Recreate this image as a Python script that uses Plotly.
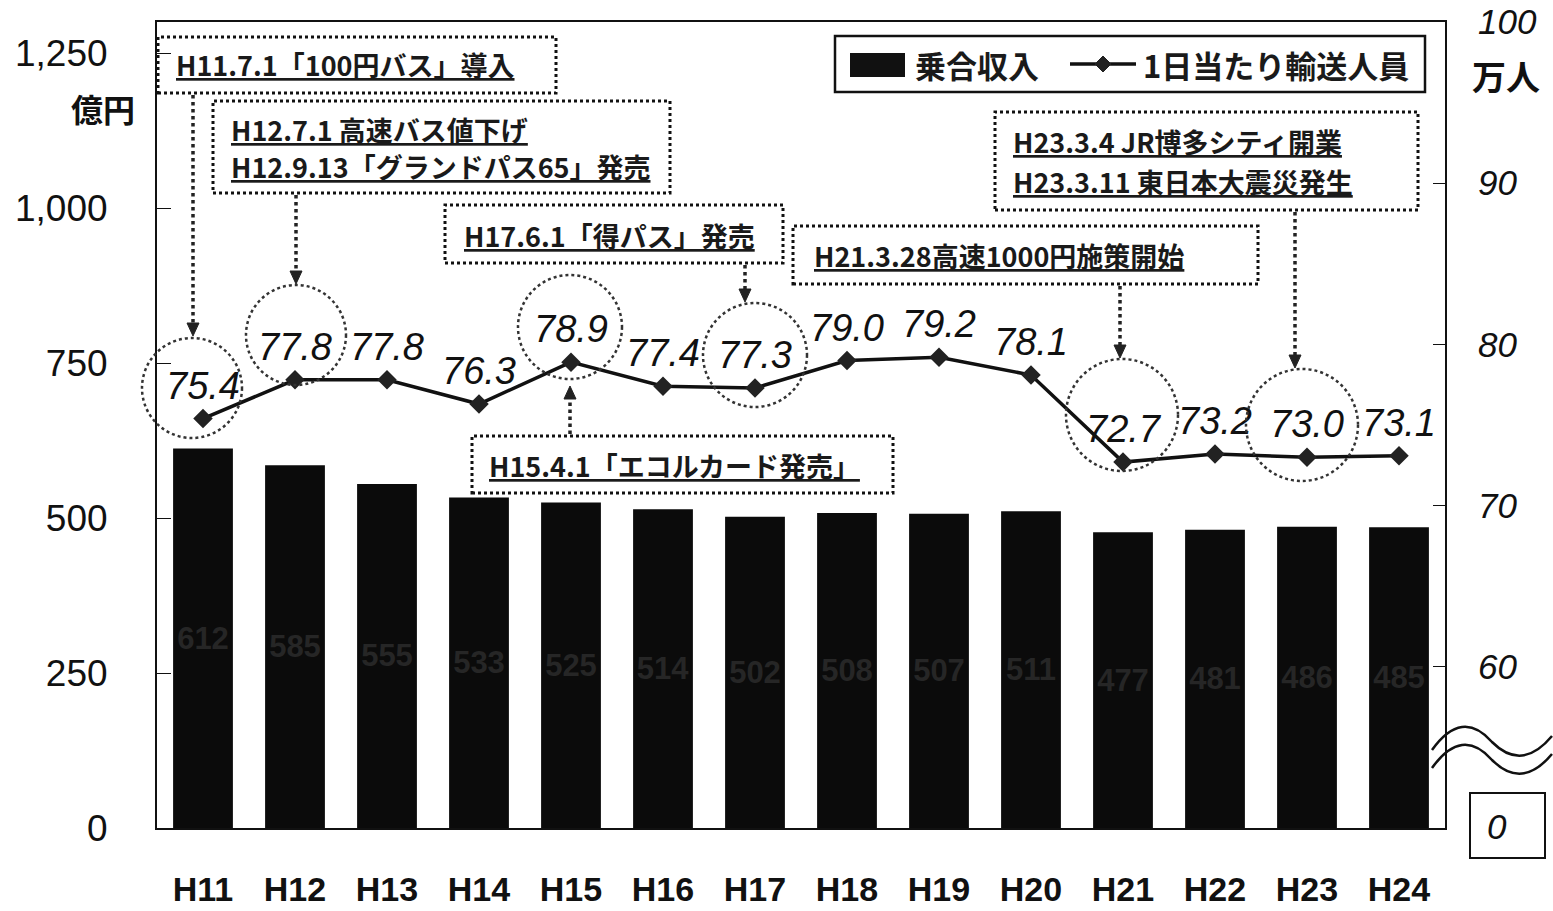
import plotly.graph_objects as go

years = ["H11", "H12", "H13", "H14", "H15", "H16", "H17", "H18", "H19", "H20", "H21", "H22", "H23", "H24"]
revenue = [612, 585, 555, 533, 525, 514, 502, 508, 507, 511, 477, 481, 486, 485]
riders = [75.4, 77.8, 77.8, 76.3, 78.9, 77.4, 77.3, 79.0, 79.2, 78.1, 72.7, 73.2, 73.0, 73.1]
left_ticks = [0, 250, 500, 750, 1000, 1250]
left_tick_text = ["0", "250", "500", "750", "1,000", "1,250"]
right_ticks = [60, 70, 80, 90, 100]
right_tick_text = ["60", "70", "80", "90", "100"]

W, H = 1553, 911
L, R, T, B = 157, 1445, 22, 828


def px(x):
    return (x - L) / (R - L)


def py(y):
    return (B - y) / (B - T)


JP = "Noto Sans CJK JP"
LAT = "Liberation Sans, Arial"

fig = go.Figure()
fig.add_trace(go.Bar(
    x=years, y=revenue, name="乗合収入", marker=dict(color="#0b0b0b", line=dict(width=0)),
    width=0.65, text=[str(v) for v in revenue], textposition="inside",
    insidetextanchor="middle", textangle=0, constraintext="none",
    textfont=dict(family=LAT, size=31, color="#262626", weight="bold"),
    showlegend=False,
))
fig.add_trace(go.Scatter(
    x=years, y=riders, name="1日当たり輸送人員", yaxis="y2", mode="lines+markers+text",
    line=dict(color="#111", width=3.5), marker=dict(symbol="diamond", size=15, color="#222"),
    text=[f"{v:.1f}" for v in riders], textposition="top center",
    textfont=dict(family=LAT, size=38, color="#111", style="italic"),
    showlegend=False, cliponaxis=False,
))

shapes = []
annotations = []


def dot_rect(x0, y0, x1, y1):
    shapes.append(dict(type="rect", xref="paper", yref="paper", x0=px(x0), x1=px(x1), y0=py(y1), y1=py(y0),
                       line=dict(color="#111", width=3, dash="dot"), fillcolor="rgba(255,255,255,0)", layer="above"))


def dot_circle(cx, cy, r):
    shapes.append(dict(type="circle", xref="paper", yref="paper", x0=px(cx - r), x1=px(cx + r),
                       y0=py(cy + r), y1=py(cy - r), line=dict(color="#333", width=2.5, dash="dot"), layer="above"))


def arrow(x, y0, y1):
    d = 1 if y1 > y0 else -1
    shapes.append(dict(type="line", xref="paper", yref="paper", x0=px(x), x1=px(x), y0=py(y0), y1=py(y1 - d * 8),
                       line=dict(color="#222", width=3.5, dash="dot"), layer="above"))
    hx, hy = x, y1
    path = (f"M {px(hx - 6)},{py(hy - d * 13)} L {px(hx + 6)},{py(hy - d * 13)} L {px(hx)},{py(hy)} Z")
    shapes.append(dict(type="path", xref="paper", yref="paper", path=path, fillcolor="#222",
                       line=dict(color="#222", width=1), layer="above"))


def note(text, x, y, size=27, anchor="left"):
    annotations.append(dict(text=text, xref="paper", yref="paper", x=px(x), y=py(y), xanchor=anchor,
                            yanchor="middle", showarrow=False, align="left",
                            font=dict(family=JP, size=size, color="#1a1a1a", weight="bold")))


# event boxes
dot_rect(158, 37, 556, 93)
note("<u>H11.7.1「100円バス」導入</u>", 174, 64)
dot_rect(213, 101, 670, 193)
note("<u>H12.7.1 高速バス値下げ</u>", 229, 129)
note("<u>H12.9.13「グランドパス65」発売</u>", 229, 167)
dot_rect(445, 205, 783, 263)
note("<u>H17.6.1「得パス」発売</u>", 462, 235)
dot_rect(793, 226, 1258, 284)
note("<u>H21.3.28高速1000円施策開始</u>", 812, 255)
dot_rect(995, 112, 1418, 210)
note("<u>H23.3.4 JR博多シティ開業</u>", 1011, 142)
note("<u>H23.3.11 東日本大震災発生</u>", 1011, 181)
dot_rect(472, 436, 893, 493)
note("<u>H15.4.1「エコルカード発売」</u>", 487, 465)

# circles
dot_circle(192, 388, 50)
dot_circle(296, 335, 50)
dot_circle(570, 327, 52)
dot_circle(755, 355, 52)
dot_circle(1122, 415, 56)
dot_circle(1302, 425, 56)

# arrows
arrow(193, 95, 336)
arrow(296, 195, 284)
arrow(745, 265, 302)
arrow(1120, 286, 358)
arrow(1295, 212, 368)
arrow(570, 434, 386)

# legend (custom)
shapes.append(dict(type="rect", xref="paper", yref="paper", x0=px(835), x1=px(1425), y0=py(92), y1=py(36),
                   line=dict(color="#111", width=2.5), fillcolor="white", layer="above"))
shapes.append(dict(type="rect", xref="paper", yref="paper", x0=px(850), x1=px(905), y0=py(77), y1=py(53),
                   line=dict(color="#111", width=0), fillcolor="#111", layer="above"))
shapes.append(dict(type="line", xref="paper", yref="paper", x0=px(1070), x1=px(1136), y0=py(64), y1=py(64),
                   line=dict(color="#111", width=3.5), layer="above"))
shapes.append(dict(type="path", xref="paper", yref="paper",
                   path=f"M {px(1103)},{py(56)} L {px(1111)},{py(64)} L {px(1103)},{py(72)} L {px(1095)},{py(64)} Z",
                   fillcolor="#222", line=dict(color="#222", width=1), layer="above"))
note("乗合収入", 913, 64, size=31)
note("1日当たり輸送人員", 1141, 64, size=31)

# axis unit labels
annotations.append(dict(text="億円", xref="paper", yref="paper", x=px(137), y=py(108), xanchor="right",
                        yanchor="middle", showarrow=False, font=dict(family=JP, size=32, color="#111", weight="bold")))
annotations.append(dict(text="万人", xref="paper", yref="paper", x=px(1470), y=py(75), xanchor="left",
                        yanchor="middle", showarrow=False, font=dict(family=JP, size=34, color="#111", weight="bold")))

# broken axis marks and zero box
for off in (0, 18):
    path = (f"M {px(1432)},{py(750 + off)} Q {px(1462)},{py(708 + off)} {px(1492)},{py(742 + off)} "
            f"Q {px(1522)},{py(772 + off)} {px(1552)},{py(736 + off)}")
    shapes.append(dict(type="path", xref="paper", yref="paper", path=path, line=dict(color="#111", width=2.5),
                       layer="above"))
shapes.append(dict(type="rect", xref="paper", yref="paper", x0=px(1470), x1=px(1545), y0=py(858), y1=py(793),
                   line=dict(color="#111", width=2), layer="above"))
annotations.append(dict(text="0", xref="paper", yref="paper", x=px(1497), y=py(826), xanchor="center",
                        yanchor="middle", showarrow=False, font=dict(family=LAT, size=35, color="#111", style="italic")))

fig.update_layout(
    width=W, height=H, autosize=False,
    margin=dict(l=L, r=W - R, t=T, b=H - B, autoexpand=False),
    paper_bgcolor="white", plot_bgcolor="white",
    showlegend=False, bargap=0.35,
    shapes=shapes, annotations=annotations,
    xaxis=dict(range=[-0.5, len(years) - 0.5], showline=True, linecolor="#111", linewidth=2, mirror=True,
               showgrid=False, ticks="", automargin=False,
               tickfont=dict(family=LAT, size=34, color="#111", weight="bold"), ticklabelstandoff=30),
    yaxis=dict(range=[0, 1300], tickvals=left_ticks, ticktext=left_tick_text, showline=True, linecolor="#111",
               linewidth=2, showgrid=False, zeroline=False, ticks="inside", ticklen=14, tickcolor="#111",
               automargin=False,
               tickfont=dict(family=LAT, size=37, color="#111"), ticklabelstandoff=40),
    yaxis2=dict(range=[50, 100], tickvals=right_ticks, ticktext=right_tick_text, overlaying="y", side="right",
                showline=True, linecolor="#111", linewidth=2, showgrid=False, zeroline=False, ticks="inside",
                ticklen=12, tickcolor="#111", automargin=False,
                tickfont=dict(family=LAT, size=35, color="#111", style="italic"), ticklabelstandoff=24),
)

fig.write_html("out.html", config={"displayModeBar": False},
               post_script="document.body.style.margin='0';document.body.style.padding='0';")
